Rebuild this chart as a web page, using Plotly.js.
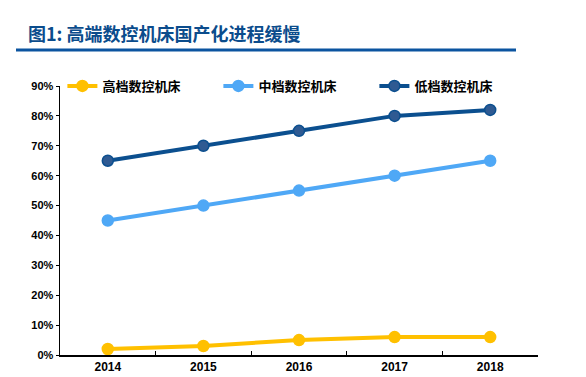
<!DOCTYPE html>
<html><head><meta charset="utf-8">
<script src="https://cdn.plot.ly/plotly-3.0.1.min.js"></script>
<style>html,body{margin:0;padding:0;background:#fff}#c{width:586px;height:377px}</style>
</head><body><div id="c"></div>
<script>
const years = ['2014','2015','2016','2017','2018'];
const highEnd = [2, 3, 5, 6, 6];
const midEnd = [45, 50, 55, 60, 65];
const lowEnd = [65, 70, 75, 80, 82];
const seriesNames = ['高档数控机床','中档数控机床','低档数控机床'];
const yTicks = [0,10,20,30,40,50,60,70,80,90];
const yTickText = yTicks.map(v => v + '%');

const cjk = '"Noto Sans CJK SC", sans-serif';
function tr(name, y, lineColor, markerColor, markerLine){
  return {x: years, y: y, name: name, type:'scatter', mode:'lines+markers',
    line:{color: lineColor, width:4},
    marker:{size:11, color: markerColor, line:{color: markerLine, width:1.5}}};
}
const data = [
  tr(seriesNames[0], highEnd, '#FFC000', '#FFC000', '#FFC000'),
  tr(seriesNames[1], midEnd, '#4FA8F6', '#4FA8F6', '#4FA8F6'),
  tr(seriesNames[2], lowEnd, '#0B4F8F', '#2F5A92', '#0B4F8F')
];
const layout = {
  width:586, height:377,
  margin:{l:60, r:48, t:86, b:22},
  paper_bgcolor:'#fff', plot_bgcolor:'#fff',
  title:{text:'<b>图1: 高端数控机床国产化进程缓慢</b>', font:{family:cjk, size:18, color:'#0B4C8C'},
    xref:'container', yref:'container', x:28/586, xanchor:'left', y:1-35/377, yanchor:'middle'},
  showlegend:true,
  legend:{orientation:'h', x:0.005, xanchor:'left', y:1.0, yanchor:'middle',
    entrywidth:111, entrywidthmode:'pixels', bgcolor:'rgba(0,0,0,0)', itemwidth:30,
    font:{family:cjk, size:13, color:'#000', weight:'bold'}},
  xaxis:{type:'category', range:[-0.5,4.5], showline:true, linecolor:'#000', linewidth:1.5,
    ticks:'inside', ticklen:4, tickcolor:'#000', tickson:'boundaries', showgrid:false, zeroline:false,
    tickfont:{family:'Arial, "Liberation Sans", sans-serif', size:12, color:'#000', weight:'bold'}},
  yaxis:{range:[0,90], tickvals:yTicks, ticktext:yTickText, showline:true, linecolor:'#000', linewidth:1.5,
    ticks:'outside', ticklen:3, tickcolor:'#000', showgrid:false, zeroline:false,
    tickfont:{family:'Arial, "Liberation Sans", sans-serif', size:11, color:'#000', weight:'bold'}},
  shapes:[{type:'line', xref:'paper', yref:'paper', x0:(16-60)/478, x1:(516-60)/478,
    y0:(355-50)/269, y1:(355-50)/269, line:{color:'#0B54A0', width:3}}]
};
Plotly.newPlot('c', data, layout, {displayModeBar:false, staticPlot:true});
</script></body></html>
